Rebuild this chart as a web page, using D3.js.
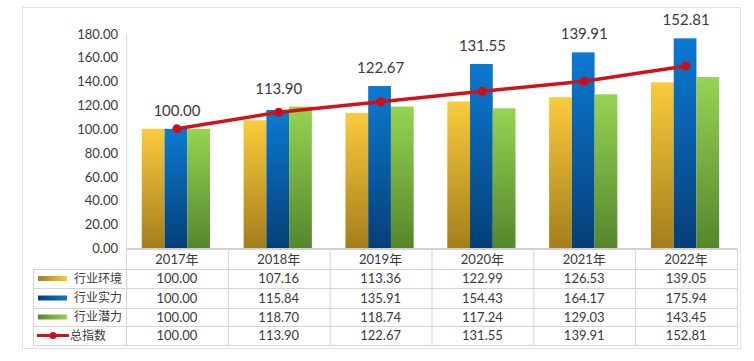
<!DOCTYPE html>
<html><head><meta charset="utf-8">
<script src="https://cdn.jsdelivr.net/npm/d3@7"></script>
<style>body{margin:0;background:#fff;}svg{display:block;}text{font-family:Lato,"Noto Sans CJK SC",sans-serif;fill:#3a3a3a;}</style>
</head><body><svg id="c" width="754" height="361"></svg>
<script>
const years = ["2017年","2018年","2019年","2020年","2021年","2022年"];
const seriesNames = ["行业环境","行业实力","行业潜力","总指数"];
const envValues = [100.00,107.16,113.36,122.99,126.53,139.05];
const strengthValues = [100.00,115.84,135.91,154.43,164.17,175.94];
const potentialValues = [100.00,118.70,118.74,117.24,129.03,143.45];
const totalValues = [100.00,113.90,122.67,131.55,139.91,152.81];
const yTicks = [0,20,40,60,80,100,120,140,160,180];

(function(){
const svg = d3.select("#c");
const defs = svg.append("defs");
const grads = [
  {id:"gY", top:"#FACB3C", bot:"#A47E1C"},
  {id:"gB", top:"#0B7AD2", bot:"#063F78"},
  {id:"gG", top:"#96D452", bot:"#55862C"}
];
grads.forEach(g=>{
  const lg = defs.append("linearGradient").attr("id",g.id).attr("x1",0).attr("y1",0).attr("x2",0).attr("y2",1);
  lg.append("stop").attr("offset","0%").attr("stop-color",g.top);
  lg.append("stop").attr("offset","100%").attr("stop-color",g.bot);
  const lh = defs.append("linearGradient").attr("id",g.id+"h").attr("x1",0).attr("y1",0).attr("x2",1).attr("y2",0);
  lh.append("stop").attr("offset","0%").attr("stop-color",g.bot);
  lh.append("stop").attr("offset","100%").attr("stop-color",g.top);
});
const barSeries = [
  {name:seriesNames[0], values:envValues, fill:"url(#gY)", icon:"url(#gYh)"},
  {name:seriesNames[1], values:strengthValues, fill:"url(#gB)", icon:"url(#gBh)"},
  {name:seriesNames[2], values:potentialValues, fill:"url(#gG)", icon:"url(#gGh)"}
];

svg.append("rect").attr("x",22.5).attr("y",7.5).attr("width",718).attr("height",341).attr("fill","#fff").attr("stroke","#e2e2e2");

const pLeft=126, pRight=737, pTop=33.5, pBottom=248;
const x0 = d3.scaleBand().domain(years).range([pLeft,pRight]).padding(0);
const bw = x0.bandwidth();
const x1 = d3.scaleBand().domain([0,1,2]).range([bw*0.155, bw*0.825]).padding(0);
const y = d3.scaleLinear().domain([0,180]).range([pBottom,pTop]);

const yAxis = d3.axisLeft(y).tickValues(yTicks).tickFormat(d3.format(".2f")).tickSize(0).tickPadding(8);
const ga = svg.append("g").attr("transform",`translate(${pLeft},0)`).call(yAxis);
ga.select(".domain").remove();
ga.attr("font-family",null).attr("font-size",null);
ga.selectAll("text").style("font-size","13px").attr("fill","#3a3a3a").attr("dy","0.35em");

const g = svg.append("g");
barSeries.forEach((s,si)=>{
  g.selectAll(null).data(years).enter().append("rect")
    .attr("x",d=>x0(d)+x1(si))
    .attr("width",x1.bandwidth())
    .attr("y",(d,i)=>y(s.values[i]))
    .attr("height",(d,i)=>pBottom-y(s.values[i]))
    .attr("fill",s.fill);
});

svg.append("line").attr("x1",pLeft+0.5).attr("x2",pLeft+0.5).attr("y1",pTop).attr("y2",pBottom).attr("stroke","#d9d9d9");

const line = d3.line().x((d,i)=>x0(years[i])+bw/2).y(d=>y(d));
svg.append("path").datum(totalValues).attr("d",line).attr("fill","none").attr("stroke","#D0121B").attr("stroke-width",3.5);
svg.selectAll(null).data(totalValues).enter().append("circle")
  .attr("cx",(d,i)=>x0(years[i])+bw/2).attr("cy",d=>y(d)).attr("r",4.5).attr("fill","#C8101A");

svg.selectAll(null).data(totalValues).enter().append("text")
  .attr("x",(d,i)=>x0(years[i])+bw/2)
  .attr("y",(d,i)=>y(Math.max(envValues[i],strengthValues[i],potentialValues[i],d))-13)
  .attr("text-anchor","middle").style("font-size","15px").text(d=>d.toFixed(2));

const rowsY = [249,269,288,308,326,345];
const tableLeft = 33;
const tg = svg.append("g").attr("stroke","#d4d4d4").attr("stroke-width",1);
rowsY.forEach((ry,i)=>{
  tg.append("line").attr("x1",i===0?pLeft:tableLeft).attr("x2",pRight).attr("y1",ry+0.5).attr("y2",ry+0.5);
});
years.forEach(yr=>{
  tg.append("line").attr("x1",x0(yr)+0.5).attr("x2",x0(yr)+0.5).attr("y1",rowsY[0]).attr("y2",rowsY[5]);
});
tg.append("line").attr("x1",pRight+0.5).attr("x2",pRight+0.5).attr("y1",rowsY[0]).attr("y2",rowsY[5]);
tg.append("line").attr("x1",tableLeft+0.5).attr("x2",tableLeft+0.5).attr("y1",rowsY[1]).attr("y2",rowsY[5]);
svg.append("line").attr("x1",pLeft).attr("x2",pRight).attr("y1",pBottom+0.5).attr("y2",pBottom+0.5).attr("stroke","#d0d0d0");

svg.selectAll(null).data(years).enter().append("text")
  .attr("x",d=>x0(d)+bw/2).attr("y",(rowsY[0]+rowsY[1])/2).attr("dy","0.35em")
  .attr("text-anchor","middle").style("font-size","13px").text(d=>d);

const allRows = [envValues,strengthValues,potentialValues,totalValues];
allRows.forEach((vals,ri)=>{
  const cy = (rowsY[ri+1]+rowsY[ri+2])/2;
  svg.selectAll(null).data(vals).enter().append("text")
    .attr("x",(d,i)=>x0(years[i])+bw/2).attr("y",cy).attr("dy","0.35em")
    .attr("text-anchor","middle").style("font-size","13px").text(d=>d.toFixed(2));
  if(ri<3){
    svg.append("rect").attr("x",38).attr("y",cy-2.5).attr("width",29).attr("height",5).attr("fill",barSeries[ri].icon);
    svg.append("text").attr("x",74).attr("y",cy).attr("dy","0.35em").style("font-size","12px").text(seriesNames[ri]);
  } else {
    svg.append("line").attr("x1",37).attr("x2",69).attr("y1",cy).attr("y2",cy).attr("stroke","#D0121B").attr("stroke-width",3);
    svg.append("circle").attr("cx",53).attr("cy",cy).attr("r",3.5).attr("fill","#C8101A");
    svg.append("text").attr("x",70).attr("y",cy).attr("dy","0.35em").style("font-size","12px").text(seriesNames[ri]);
  }
});
})();
</script></body></html>
